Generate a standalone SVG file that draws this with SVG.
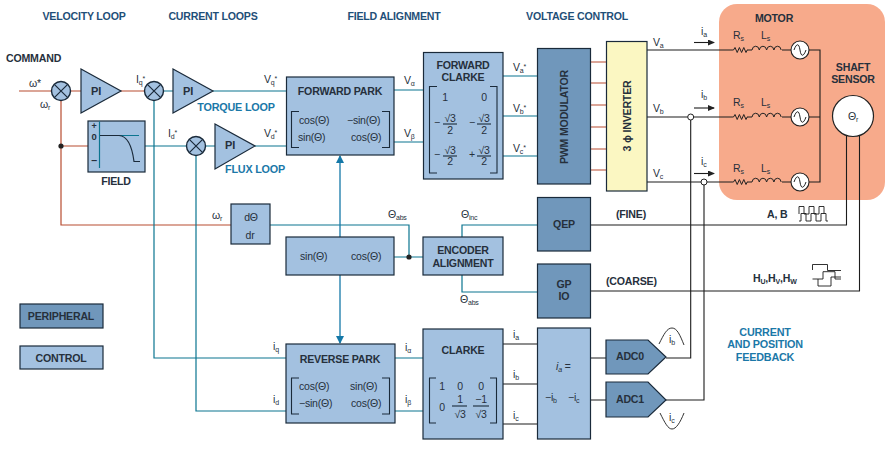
<svg xmlns="http://www.w3.org/2000/svg" width="894" height="449" viewBox="0 0 894 449">
<style>
text{font-family:"Liberation Sans",Arial,sans-serif;font-weight:bold;font-size:10.6px;fill:#26303c;letter-spacing:-.2px}
.c{text-anchor:middle}
.h{fill:#1f4f78;font-size:10.6px}
.b{fill:#1b78a8;font-size:10.8px}
.m{font-weight:normal;-webkit-text-stroke:.25px #26303c;font-size:10.5px}
.s{font-size:7px}
.ctl{fill:#a3c1e0;stroke:#1a2a3a;stroke-width:1.2}
.per{fill:#7097bb;stroke:#1a2a3a;stroke-width:1.2}
.red{fill:none;stroke:#b84c30;stroke-width:1.2}
.tl{fill:none;stroke:#0b7590;stroke-width:1.2}
.tb{fill:none;stroke:#1478a8;stroke-width:1.3}
.k{fill:none;stroke:#1c1c1c;stroke-width:1.1}
.br{fill:none;stroke:#1a2a3a;stroke-width:1.1}
.sum{fill:#a3c1e0;stroke:#1a2a3a;stroke-width:1.4}
.x{stroke:#1a2a3a;stroke-width:1.2}
.jo{fill:#fff;stroke:#222;stroke-width:1}
</style>
<defs>
<marker id="ab" markerWidth="8" markerHeight="10" refX="7" refY="4" orient="auto" markerUnits="userSpaceOnUse"><path d="M0,0L8,4L0,8Z" fill="#1478a8"/></marker>
<marker id="ak" markerWidth="7" markerHeight="6" refX="6" refY="3" orient="auto" markerUnits="userSpaceOnUse"><path d="M0,0L7,3L0,6Z" fill="#222"/></marker>
<g id="sumj"><circle r="9.5" class="sum"/><path d="M-6.700,-6.700L6.700,6.700M-6.700,6.700L6.700,-6.700" class="x"/></g>
<path id="res" d="M0,0l1.500,0l1.500,-2.500l2.200,5l2.200,-5l2.200,5l2.200,-5l2.200,5l1.200,-2.500" fill="none" stroke="#222" stroke-width="1"/>
<path id="ind" d="M0,0a3.700,4.500 0 0 1 7.300,0a3.700,4.500 0 0 1 7.300,0a3.700,4.500 0 0 1 7.300,0a3.700,4.500 0 0 1 7.300,0" fill="none" stroke="#222" stroke-width="1"/>
<g id="src"><circle r="9" fill="#fff" stroke="#222" stroke-width="1.100"/><path d="M-6,0C-3.500,-7 -1,-7 0,0C1,7 3.500,7 6,0" fill="none" stroke="#222" stroke-width="1"/></g>
</defs>

<g id="motor-bg"><rect x="719" y="4" width="166" height="196" rx="18" fill="#f7aa8b"/></g>

<g id="connectors">
<path class="red" d="M19,91H51.500M70.500,91H81M121,91H144.500"/>
<path class="red" d="M61,100.500V225H231M61,146H88"/>
<path class="tl" d="M163.500,91H173M213,91H286.500M154,100.500V358H286M145,146H186.500M205.500,146H215M255,146H286.500M196,155.500V411H286"/>
<path class="tl" d="M394,90H423.500M394,142H423.500M503,76H537.500M503,116H537.500M503,156H537.500"/>
<path class="red" d="M590.500,62H606.500M590.500,83H606.500M590.500,105H606.500M590.500,127H606.500M590.500,149H606.500M590.500,170H606.500"/>
<path class="tl" d="M270,225H409V257M394,257H423M462,237V225H537.500M462,275V292H537.500M395,358H423M395,411H423"/>
<path class="tb" d="M340,237V156" marker-end="url(#ab)"/>
<path class="tb" d="M340,275V343" marker-end="url(#ab)"/>
<path class="k" d="M503,344H537.500M503,384H537.500M503,424H537.500M590.500,358H606M590.500,400H606"/>
<path class="k" d="M647,50H732M647,117H732M647,182H732M747,50H752M747,117H752M747,182H752M782,50H791M782,117H791M782,182H791M809,50H820V182H809M809,117H820"/>
<path class="k" d="M690.700,117V358H666M704,182V400H666M590.500,225H846.500V136M590.500,291H859.500V136"/>
<path class="k" d="M694,42.500H714" marker-end="url(#ak)"/><path class="k" d="M694,108H714" marker-end="url(#ak)"/><path class="k" d="M694,173.500H714" marker-end="url(#ak)"/>
<circle cx="61" cy="146" r="2.600" fill="#222"/>
<circle cx="409" cy="257" r="2.600" fill="#222"/>
<circle cx="690.700" cy="117" r="3" class="jo"/>
<circle cx="704" cy="182" r="3" class="jo"/>
</g>

<g id="titles">
<text x="84" y="20" class="h c">VELOCITY LOOP</text>
<text x="213" y="20" class="h c">CURRENT LOOPS</text>
<text x="394" y="20" class="h c">FIELD ALIGNMENT</text>
<text x="577" y="20" class="h c">VOLTAGE CONTROL</text>
<text x="6" y="62">COMMAND</text>
<text x="236" y="111" class="b c">TORQUE LOOP</text>
<text x="255" y="173" class="b c">FLUX LOOP</text>
<text x="765" y="336" class="b c">CURRENT</text>
<text x="765" y="348" class="b c">AND POSITION</text>
<text x="765" y="361" class="b c">FEEDBACK</text>
</g>

<g id="sum1"><use href="#sumj" x="61" y="91"/><text x="35" y="87" class="m c">ω*</text><text x="45" y="108" class="m c">ω<tspan class="s" dy="2">r</tspan></text></g>
<g id="pi1"><path d="M81,69L121,91L81,113Z" class="ctl"/><text x="96" y="95" class="c" style="font-size:11px">PI</text></g>
<g id="sum2"><use href="#sumj" x="154" y="91"/><text x="136" y="83" class="m">I<tspan class="s" dy="2">q</tspan><tspan class="s" dy="-4">*</tspan></text></g>
<g id="pi2"><path d="M173,69L213,91L173,113Z" class="ctl"/><text x="188" y="95" class="c" style="font-size:11px">PI</text></g>
<g id="sum3"><use href="#sumj" x="196" y="146"/><text x="168" y="137" class="m">I<tspan class="s" dy="2">d</tspan><tspan class="s" dy="-4">*</tspan></text></g>
<g id="pi3"><path d="M215,124L255,146L215,169Z" class="ctl"/><text x="230" y="149" class="c" style="font-size:11px">PI</text></g>
<text x="264" y="83" class="m">V<tspan class="s" dy="2">q</tspan><tspan class="s" dy="-4">*</tspan></text>
<text x="264" y="137" class="m">V<tspan class="s" dy="2">d</tspan><tspan class="s" dy="-4">*</tspan></text>

<g id="field"><rect x="88" y="121" width="57" height="51" class="ctl"/>
<path d="M99.500,121.500V168M100,135.500H139" class="tl"/>
<path d="M100,135.500H119C127,136 132,146 134,161.500H140" fill="none" stroke="#1a2a3a" stroke-width="1.200"/>
<text x="94" y="129" class="c" style="font-size:9px">+</text><text x="94" y="140" class="c" style="font-size:9.500px">0</text><text x="94" y="164" class="c">–</text>
<text x="116" y="185" class="c">FIELD</text></g>

<g id="forward-park"><rect x="286.500" y="77" width="107.500" height="78" class="ctl"/>
<text x="340" y="95" class="c">FORWARD PARK</text>
<path d="M299,111.500H291.500V147.500H299M382,111.500H389.500V147.500H382" class="br"/>
<text x="299" y="124" class="m">cos(Θ)</text><text x="347" y="124" class="m">−sin(Θ)</text>
<text x="298" y="141" class="m">sin(Θ)</text><text x="351" y="141" class="m">cos(Θ)</text></g>
<text x="404" y="84" class="m">V<tspan class="s" dy="2">α</tspan></text>
<text x="404" y="137" class="m">V<tspan class="s" dy="2">β</tspan></text>

<g id="forward-clarke"><rect x="423.500" y="52.500" width="79.500" height="126.500" class="ctl"/>
<text x="463" y="69" class="c">FORWARD</text><text x="463" y="81" class="c">CLARKE</text>
<path d="M437,86.500H429.500V173H437M490,86.500H497V173H490" class="br"/>
<text x="445" y="101" class="c m">1</text><text x="484" y="101" class="c m">0</text>
<text x="434" y="126" class="m">−</text><text x="450" y="122" class="c m">√3</text><path d="M443,124H457" class="br"/><text x="450" y="134" class="c m">2</text>
<text x="469" y="126" class="m">−</text><text x="484" y="122" class="c m">√3</text><path d="M477,124H491" class="br"/><text x="484" y="134" class="c m">2</text>
<text x="434" y="158" class="m">−</text><text x="450" y="154" class="c m">√3</text><path d="M443,156H457" class="br"/><text x="450" y="165" class="c m">2</text>
<text x="469" y="158" class="m">+</text><text x="484" y="154" class="c m">√3</text><path d="M477,156H491" class="br"/><text x="484" y="165" class="c m">2</text></g>
<text x="513" y="71" class="m">V<tspan class="s" dy="2">a</tspan><tspan class="s" dy="-4">*</tspan></text>
<text x="513" y="112" class="m">V<tspan class="s" dy="2">b</tspan><tspan class="s" dy="-4">*</tspan></text>
<text x="513" y="152" class="m">V<tspan class="s" dy="2">c</tspan><tspan class="s" dy="-4">*</tspan></text>

<g id="pwm"><rect x="537.500" y="48.500" width="53" height="135.500" class="per"/><text transform="translate(568,117) rotate(-90)" class="c">PWM MODULATOR</text></g>
<g id="inverter"><rect x="606.500" y="41.500" width="40.500" height="149.500" fill="#fbf7c2" stroke="#1a2a3a" stroke-width="1.200"/><text transform="translate(631,116) rotate(-90)" class="c">3 ϕ INVERTER</text></g>
<text x="653" y="46" class="m">V<tspan class="s" dy="2">a</tspan></text>
<text x="653" y="112" class="m">V<tspan class="s" dy="2">b</tspan></text>
<text x="653" y="177" class="m">V<tspan class="s" dy="2">c</tspan></text>
<text x="701" y="35" class="m">i<tspan class="s" dy="2">a</tspan></text>
<text x="701" y="98" class="m">i<tspan class="s" dy="2">b</tspan></text>
<text x="701" y="165" class="m">i<tspan class="s" dy="2">c</tspan></text>

<g id="motor"><text x="774" y="22" class="c">MOTOR</text>
<use href="#res" x="732" y="50"/><use href="#ind" x="752" y="50"/><use href="#src" x="800" y="50"/>
<use href="#res" x="732" y="117"/><use href="#ind" x="752" y="117"/><use href="#src" x="800" y="117"/>
<use href="#res" x="732" y="182"/><use href="#ind" x="752" y="182"/><use href="#src" x="800" y="182"/>
<text x="733" y="39" class="m">R<tspan class="s" dy="2">s</tspan></text><text x="761" y="39" class="m">L<tspan class="s" dy="2">s</tspan></text>
<text x="733" y="106" class="m">R<tspan class="s" dy="2">s</tspan></text><text x="761" y="106" class="m">L<tspan class="s" dy="2">s</tspan></text>
<text x="733" y="172" class="m">R<tspan class="s" dy="2">s</tspan></text><text x="761" y="172" class="m">L<tspan class="s" dy="2">s</tspan></text></g>

<g id="shaft-sensor"><text x="853" y="71" class="c">SHAFT</text><text x="853" y="83" class="c">SENSOR</text>
<circle cx="853" cy="116" r="20.500" fill="#fff" stroke="#222" stroke-width="1.200"/>
<text x="853" y="120" class="c m">Θ<tspan class="s" dy="2">r</tspan></text></g>

<g id="dtheta"><rect x="231" y="204" width="39" height="40" class="ctl"/><text x="251" y="221" class="c m">dΘ</text><text x="250" y="239" class="c m">dr</text></g>
<text x="212" y="219" class="m">ω<tspan class="s" dy="2">r</tspan></text>
<g id="sincos"><rect x="286" y="237" width="108" height="38" class="ctl"/><text x="300" y="260" class="m">sin(Θ)</text><text x="351" y="260" class="m">cos(Θ)</text></g>
<text x="388" y="218" class="m">Θ<tspan class="s" dy="2">abs</tspan></text>
<text x="461" y="218" class="m">Θ<tspan class="s" dy="2">inc</tspan></text>
<text x="460" y="303" class="m">Θ<tspan class="s" dy="2">abs</tspan></text>
<g id="encoder"><rect x="423" y="237" width="80" height="38" class="ctl"/><text x="463" y="254" class="c">ENCODER</text><text x="463" y="267" class="c">ALIGNMENT</text></g>
<g id="qep"><rect x="537.500" y="197.500" width="53" height="53.500" class="per"/><text x="564" y="228" class="c">QEP</text></g>
<g id="gpio"><rect x="537.500" y="264" width="53" height="54" class="per"/><text x="564" y="288" class="c">GP</text><text x="564" y="300" class="c">IO</text></g>
<text x="616" y="218">(FINE)</text>
<text x="606" y="285">(COARSE)</text>
<text x="767" y="218">A, B</text>
<text x="753" y="282">H<tspan class="s" dy="2">U</tspan><tspan dy="-2">,H</tspan><tspan class="s" dy="2">V</tspan><tspan dy="-2">,H</tspan><tspan class="s" dy="2">W</tspan></text>
<path id="ab-wave" d="M799,214V206.500H804V214H809V206.500H814V214H819V206.500H824V214M799,221H801V213.500H806V221H811V213.500H816V221H821V213.500H826V221H828" fill="none" stroke="#1c1c1c" stroke-width=".9"/>
<path id="hall-wave" d="M812.500,270V264.500H827.500V270.500H841M812.500,279H823V271.700H835V279H841M818,279V286H831V277H841" fill="none" stroke="#1c1c1c" stroke-width=".9"/>

<g id="reverse-park"><rect x="286" y="344" width="109" height="79" class="ctl"/>
<text x="340" y="363" class="c">REVERSE PARK</text>
<path d="M299,378H291.500V414H299M382,378H389.500V414H382" class="br"/>
<text x="299" y="390" class="m">cos(Θ)</text><text x="350" y="390" class="m">sin(Θ)</text>
<text x="299" y="407" class="m">−sin(Θ)</text><text x="351" y="407" class="m">cos(Θ)</text></g>
<text x="273" y="350" class="m">i<tspan class="s" dy="2">q</tspan></text>
<text x="273" y="403" class="m">i<tspan class="s" dy="2">d</tspan></text>
<text x="405" y="351" class="m">i<tspan class="s" dy="2">α</tspan></text>
<text x="405" y="403" class="m">i<tspan class="s" dy="2">β</tspan></text>

<g id="clarke"><rect x="423" y="329" width="80" height="110" class="ctl"/>
<text x="463" y="354" class="c">CLARKE</text>
<path d="M436,378H429.500V423H436M490,378H496.500V423H490" class="br"/>
<text x="442" y="390" class="c m">1</text><text x="460" y="390" class="c m">0</text><text x="481" y="390" class="c m">0</text>
<text x="442" y="411" class="c m">0</text><text x="460" y="403" class="c m">1</text><path d="M452,406H467" class="br"/><text x="460" y="418" class="c m">√3</text>
<text x="481" y="403" class="c m">−1</text><path d="M473,406H489" class="br"/><text x="481" y="418" class="c m">√3</text></g>
<text x="513" y="338" class="m">i<tspan class="s" dy="2">a</tspan></text>
<text x="513" y="378" class="m">i<tspan class="s" dy="2">b</tspan></text>
<text x="513" y="419" class="m">i<tspan class="s" dy="2">c</tspan></text>

<g id="ia-calc"><rect x="537.500" y="328" width="53" height="111" class="ctl"/>
<text x="556" y="370" class="m" font-style="italic">i<tspan class="s" dy="2">a</tspan><tspan dy="-2"> =</tspan></text>
<text x="545" y="401" class="m">−i<tspan class="s" dy="2">b</tspan></text><text x="568" y="401" class="m">−i<tspan class="s" dy="2">c</tspan></text></g>
<g id="adc0"><path d="M606,340H648L666,357L648,374H606Z" class="per"/><text x="630" y="360" class="c">ADC0</text></g>
<g id="adc1"><path d="M606,382H648L666,400L648,417H606Z" class="per"/><text x="630" y="403" class="c">ADC1</text></g>
<path id="ib-wave" d="M659,344C664,334 667,328 672,328C677,328 680,335 684,345" fill="none" stroke="#1c1c1c" stroke-width=".9"/>
<path id="ic-wave" d="M660,413C665,423 668,429 672,429C676,429 680,423 684,413" fill="none" stroke="#1c1c1c" stroke-width=".9"/>
<text x="669" y="343" class="m">i<tspan class="s" dy="2">b</tspan></text>
<text x="669" y="421" class="m">i<tspan class="s" dy="2">c</tspan></text>

<g id="peripheral"><rect x="20" y="304" width="83" height="24" class="per"/><text x="61" y="320" class="c">PERIPHERAL</text></g>
<g id="control"><rect x="20" y="346" width="83" height="23" class="ctl"/><text x="61" y="362" class="c">CONTROL</text></g>
</svg>
